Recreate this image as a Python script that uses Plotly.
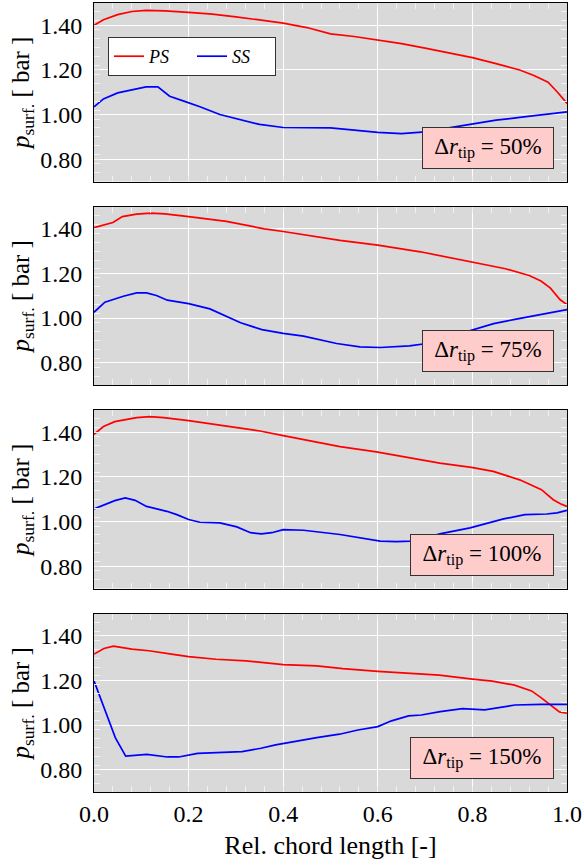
import plotly.graph_objects as go
from plotly.subplots import make_subplots

# Relative tip clearance of each case [%]
tip_clearance = [50, 75, 100, 150]

# --- dr_tip = 50 % ---
x_ps_50 = [0.00, 0.02, 0.05, 0.08, 0.11, 0.15, 0.20, 0.25, 0.30, 0.35, 0.40, 0.45, 0.50,
           0.55, 0.60, 0.65, 0.70, 0.75, 0.80, 0.85, 0.90, 0.93, 0.96, 0.98, 1.00]
ps_50 = [1.400, 1.425, 1.448, 1.462, 1.467, 1.465, 1.458, 1.450, 1.438, 1.425, 1.410, 1.390, 1.362,
         1.350, 1.335, 1.318, 1.298, 1.278, 1.255, 1.228, 1.200, 1.175, 1.145, 1.100, 1.050]
x_ss_50 = [0.00, 0.02, 0.05, 0.08, 0.11, 0.135, 0.16, 0.19, 0.224, 0.266, 0.30, 0.35, 0.40,
           0.45, 0.50, 0.55, 0.60, 0.65, 0.70, 0.75, 0.80, 0.85, 0.90, 0.95, 1.00]
ss_50 = [1.035, 1.070, 1.097, 1.112, 1.124, 1.124, 1.082, 1.060, 1.035, 1.000, 0.983, 0.956, 0.942,
         0.940, 0.940, 0.930, 0.920, 0.915, 0.922, 0.940, 0.958, 0.975, 0.987, 0.998, 1.012]

# --- dr_tip = 75 % ---
x_ps_75 = [0.00, 0.04, 0.06, 0.09, 0.12, 0.15, 0.20, 0.28, 0.36, 0.40, 0.52, 0.60, 0.69,
           0.80, 0.87, 0.92, 0.945, 0.965, 0.985, 1.00]
ps_75 = [1.405, 1.428, 1.455, 1.466, 1.470, 1.467, 1.455, 1.433, 1.400, 1.388, 1.348, 1.327, 1.297,
         1.251, 1.221, 1.191, 1.166, 1.134, 1.083, 1.061]
x_ss_75 = [0.00, 0.023, 0.062, 0.09, 0.111, 0.132, 0.155, 0.20, 0.245, 0.28, 0.31, 0.355, 0.40,
           0.443, 0.513, 0.562, 0.605, 0.667, 0.70, 0.75, 0.795, 0.845, 0.887, 0.944, 1.00]
ss_75 = [1.026, 1.071, 1.098, 1.113, 1.113, 1.101, 1.080, 1.065, 1.041, 1.008, 0.979, 0.948, 0.931,
         0.919, 0.886, 0.871, 0.868, 0.875, 0.885, 0.915, 0.945, 0.975, 0.993, 1.016, 1.038]

# --- dr_tip = 100 % ---
x_ps_100 = [0.00, 0.02, 0.044, 0.066, 0.09, 0.118, 0.147, 0.20, 0.252, 0.302, 0.351, 0.40, 0.463,
            0.52, 0.597, 0.675, 0.731, 0.798, 0.844, 0.90, 0.946, 0.971, 0.986, 1.00]
ps_100 = [1.391, 1.426, 1.448, 1.455, 1.466, 1.470, 1.466, 1.452, 1.437, 1.423, 1.406, 1.385, 1.359,
          1.336, 1.312, 1.284, 1.262, 1.243, 1.225, 1.187, 1.143, 1.098, 1.080, 1.068]
x_ss_100 = [0.00, 0.044, 0.066, 0.087, 0.111, 0.154, 0.175, 0.20, 0.224, 0.266, 0.302, 0.331, 0.354,
            0.376, 0.40, 0.443, 0.52, 0.57, 0.605, 0.64, 0.668, 0.70, 0.731, 0.795, 0.866, 0.911,
            0.957, 0.979, 1.00]
ss_100 = [1.057, 1.094, 1.106, 1.095, 1.068, 1.046, 1.031, 1.009, 0.997, 0.994, 0.976, 0.950, 0.945,
          0.950, 0.964, 0.961, 0.942, 0.923, 0.912, 0.910, 0.912, 0.925, 0.945, 0.972, 1.012, 1.031,
          1.034, 1.039, 1.050]

# --- dr_tip = 150 % ---
x_ps_150 = [0.00, 0.021, 0.041, 0.08, 0.116, 0.148, 0.171, 0.20, 0.258, 0.321, 0.369, 0.40, 0.471,
            0.526, 0.60, 0.668, 0.73, 0.80, 0.842, 0.889, 0.925, 0.945, 0.965, 0.984, 1.00]
ps_150 = [1.318, 1.343, 1.354, 1.340, 1.333, 1.325, 1.316, 1.307, 1.295, 1.288, 1.277, 1.271, 1.265,
          1.253, 1.241, 1.232, 1.224, 1.206, 1.197, 1.179, 1.153, 1.123, 1.089, 1.059, 1.053]
x_ss_150 = [0.00, 0.025, 0.045, 0.067, 0.112, 0.155, 0.179, 0.219, 0.258, 0.29, 0.313, 0.353, 0.384,
            0.432, 0.471, 0.519, 0.558, 0.60, 0.629, 0.665, 0.692, 0.732, 0.779, 0.826, 0.858, 0.89,
            0.945, 1.00]
ss_150 = [1.198, 1.056, 0.944, 0.861, 0.869, 0.857, 0.857, 0.873, 0.876, 0.876, 0.881, 0.896, 0.911,
          0.929, 0.944, 0.959, 0.978, 0.993, 1.019, 1.041, 1.045, 1.060, 1.074, 1.068, 1.078, 1.090,
          1.093, 1.093]

panels = [
    (x_ps_50, ps_50, x_ss_50, ss_50),
    (x_ps_75, ps_75, x_ss_75, ss_75),
    (x_ps_100, ps_100, x_ss_100, ss_100),
    (x_ps_150, ps_150, x_ss_150, ss_150),
]

y_ticks = [0.80, 1.00, 1.20, 1.40]
x_ticks = [0.0, 0.2, 0.4, 0.6, 0.8, 1.0]

FONT = "Liberation Serif, Times New Roman, serif"
RED = "#ff0000"
BLUE = "#0000ff"
TICK = "#f2f2f2"
FS = 24

W, H = 584, 865
M_L, M_R, M_T, M_B = 94, 17, 3, 73
GAP = 25
plot_h = H - M_T - M_B

fig = make_subplots(rows=4, cols=1, shared_xaxes=False,
                    vertical_spacing=GAP / plot_h)

for i, (xp, yp, xs, ys) in enumerate(panels):
    row = i + 1
    fig.add_trace(go.Scatter(x=xp, y=yp, mode="lines", name="PS",
                             line=dict(color=RED, width=1.7),
                             showlegend=(i == 0), legendrank=1),
                  row=row, col=1)
    fig.add_trace(go.Scatter(x=xs, y=ys, mode="lines", name="SS",
                             line=dict(color=BLUE, width=1.7),
                             showlegend=(i == 0), legendrank=2),
                  row=row, col=1)

    box_w = 130 if tip_clearance[i] < 100 else 142
    suffix = "" if i == 0 else str(row)
    fig.add_annotation(
        xref=f"x{suffix} domain", yref=f"y{suffix} domain",
        x=1, y=0, xanchor="right", yanchor="bottom",
        xshift=-13, yshift=13,
        text=f"Δ<i>r</i><sub>tip</sub> = {tip_clearance[i]}%",
        showarrow=False,
        font=dict(family=FONT, size=23, color="black"),
        bgcolor="#ffcccc", bordercolor="#333333", borderwidth=1, borderpad=0,
        width=box_w, height=40, align="center", valign="middle",
    )

    fig.update_xaxes(
        range=[0, 1], tickvals=x_ticks, tickformat=".1f",
        showticklabels=(row == 4),
        showline=True, linecolor="black", linewidth=1, mirror="ticks",
        ticks="inside", ticklen=6, tickcolor=TICK, tickwidth=1,
        minor=dict(ticks="inside", dtick=0.04, ticklen=6, tickcolor=TICK, tickwidth=1,
                   showgrid=False),
        showgrid=True, gridcolor="white", gridwidth=1, zeroline=False,
        tickfont=dict(family=FONT, size=FS, color="black"),
        row=row, col=1,
    )
    fig.update_yaxes(
        range=[0.7, 1.5], tickvals=y_ticks, tickformat=".2f",
        showline=True, linecolor="black", linewidth=1, mirror="ticks",
        ticks="inside", ticklen=6, tickcolor=TICK, tickwidth=1,
        minor=dict(ticks="inside", dtick=0.04, tick0=0.7, ticklen=6, tickcolor=TICK,
                   tickwidth=1, showgrid=False),
        showgrid=True, gridcolor="white", gridwidth=1, zeroline=False,
        tickfont=dict(family=FONT, size=FS, color="black"),
        ticklabelstandoff=6,
        title=dict(text="<i>p</i><sub>surf.</sub> [ bar ]",
                   font=dict(family=FONT, size=25, color="black"), standoff=3),
        row=row, col=1,
    )

fig.update_xaxes(
    title=dict(text="Rel. chord length [-]",
               font=dict(family=FONT, size=26, color="black"), standoff=10),
    row=4, col=1,
)

legend_top = 1 - (37 - M_T) / plot_h
fig.update_layout(
    width=W, height=H,
    margin=dict(l=M_L, r=M_R, t=M_T, b=M_B),
    paper_bgcolor="white", plot_bgcolor="#d9d9d9",
    font=dict(family=FONT, size=FS, color="black"),
    legend=dict(
        orientation="h", x=(108 - M_L) / (W - M_L - M_R), y=legend_top,
        xanchor="left", yanchor="top",
        bgcolor="white", bordercolor="#333333", borderwidth=1,
        font=dict(family=FONT, size=18, color="black", style="italic"),
        entrywidth=38,
    ),
)

fig.write_html("out.html")
